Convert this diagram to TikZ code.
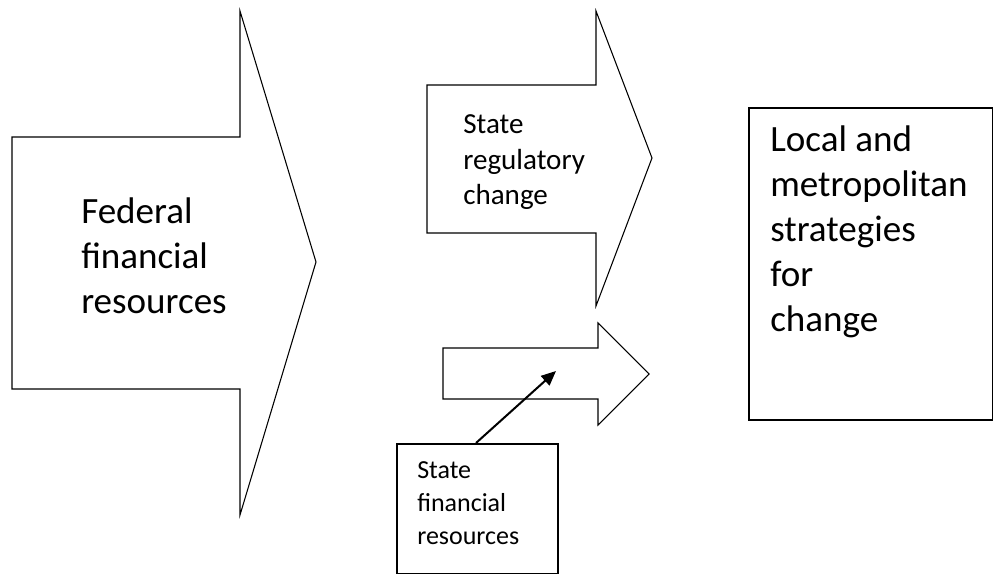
\documentclass[tikz,border=0pt]{standalone}
\usepackage{fontspec}
\setmainfont{Carlito}
\usetikzlibrary{arrows.meta}
\begin{document}
\begin{tikzpicture}[x=0.75pt,y=-0.75pt,
  blockarrow/.style={draw=black,line width=0.8pt,line join=miter,fill=white},
  boxstyle/.style={draw=black,line width=1.3pt},
  lbl/.style={anchor=base west,inner sep=0pt,align=left,text=black},
  bigtext/.style={lbl,font=\fontsize{27.8}{33.6}\selectfont},
  midtext/.style={lbl,font=\fontsize{21.8}{27}\selectfont},
  smalltext/.style={lbl,font=\fontsize{19.5}{24.4}\selectfont},
  link/.style={draw=black,line width=1.5pt,-{Triangle[length=11pt,width=9.5pt]}}]
\useasboundingbox (0,0) rectangle (993,574);
% Federal arrow
\draw[blockarrow] (12,137) -- (240,137) -- (240,11) -- (316,262) -- (240,515) -- (240,389) -- (12,389) -- cycle;
\node[bigtext] (fed) at (81,313) {Federal\\financial\\resources};
% State regulatory arrow
\draw[blockarrow] (427,85) -- (596,85) -- (596,11) -- (652,158) -- (596,306) -- (596,233) -- (427,233) -- cycle;
\node[midtext] (reg) at (463,205) {State\\regulatory\\change};
% small arrow
\draw[blockarrow] (443,348) -- (598,348) -- (598,323) -- (649,374) -- (598,425) -- (598,399) -- (443,399) -- cycle;
\coordinate (smalltip) at (556,371);
% State financial box
\node[boxstyle,minimum width=161*0.75pt,minimum height=130*0.75pt,anchor=north west,inner sep=0pt] (sfr) at (396,443) {};
\node[smalltext] (sfrtxt) at (417,544) {State\\financial\\resources};
% Local box
\node[boxstyle,minimum width=244*0.75pt,minimum height=312*0.75pt,anchor=north west,inner sep=0pt] (loc) at (748,107) {};
\node[bigtext] (loctxt) at (770,331) {Local and\\metropolitan\\strategies\\for\\change};
% connector
\coordinate (linkstart) at (476,443);
\draw[link] (linkstart) -- (smalltip);
\end{tikzpicture}
\end{document}
